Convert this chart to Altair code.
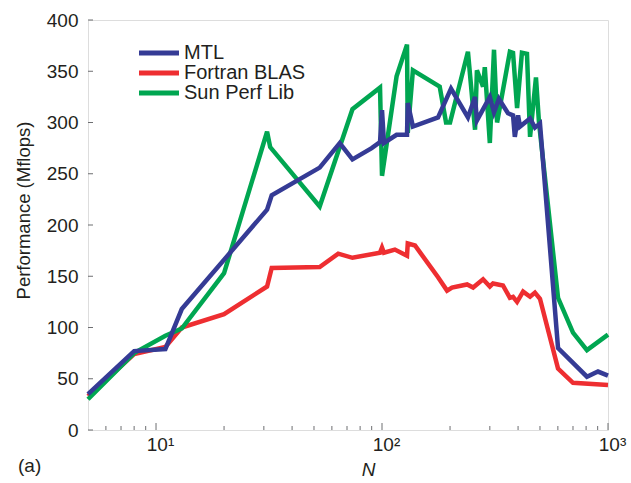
import altair as alt
import pandas as pd

# ---- data ----
series_names = ["MTL", "Fortran BLAS", "Sun Perf Lib"]
series_colors = ["#353b95", "#ee2e31", "#00a651"]

mtl_n = [5, 8, 11, 13, 31, 32.5, 53, 65, 74, 90, 98, 100, 102, 116, 129, 130, 137,
         177, 202, 240, 258, 263, 300, 313, 329, 361, 380, 387, 400, 408, 452, 475,
         500, 601, 807, 903, 1000]
mtl_perf = [35, 77, 79, 118, 215, 229, 256, 280, 264, 275, 281, 312, 280, 288, 288, 319, 296,
            305, 333, 305, 325, 302, 325, 310, 323, 309, 307, 286, 307, 296, 304, 295,
            299, 80, 52, 57, 53]

fortran_n = [5, 8, 11, 13, 20, 31, 32.5, 53, 64, 74, 98, 100, 102, 114, 129, 130, 140,
             177, 194, 204, 238, 253, 280, 300, 310, 343, 368, 380, 396, 421, 452, 475,
             500, 601, 700, 1000]
fortran_perf = [33, 74, 81, 100, 113, 140, 158, 159, 172, 168, 173, 178, 173, 176, 170, 182, 180,
                149, 136, 139, 142, 139, 147, 140, 143, 141, 129, 130, 125, 135, 130, 134,
                128, 60, 46, 44]

sun_n = [5, 8, 11, 13, 20, 31, 32, 53, 74, 98, 100, 116, 129, 130, 137, 180, 192, 200,
         240, 258, 263, 280, 285, 300, 313, 323, 368, 380, 396, 416, 438, 452, 480, 495,
         601, 700, 807, 1000]
sun_perf = [30, 75, 92, 99, 153, 291, 276, 218, 313, 334, 248, 345, 376, 290, 351, 335, 300, 300,
            369, 293, 351, 335, 354, 280, 371, 300, 369, 368, 314, 368, 367, 286, 344, 300,
            129, 95, 78, 93]

x_tick_values = [10, 100, 1000]
x_tick_labels = ["10¹", "10²", "10³"]
x_minor_ticks = [6, 7, 8, 9, 20, 30, 40, 50, 60, 70, 80, 90,
                 200, 300, 400, 500, 600, 700, 800, 900]
y_tick_values = [0, 50, 100, 150, 200, 250, 300, 350, 400]
annotation_text = ["(a)"]

# ---- tables ----
df_mtl = pd.DataFrame({"N": mtl_n, "perf": mtl_perf, "series": series_names[0]})
df_fortran = pd.DataFrame({"N": fortran_n, "perf": fortran_perf, "series": series_names[1]})
df_sun = pd.DataFrame({"N": sun_n, "perf": sun_perf, "series": series_names[2]})

W, H = 520, 410
FONT = "Liberation Sans"
TXT = "#231f20"
FRAME = "#6d6e71"

label_expr = " : ".join(
    f"datum.value == {v} ? '{l}'" for v, l in zip(x_tick_values, x_tick_labels)
) + " : ''"

x_scale = alt.Scale(type="log", domain=[5, 1000], nice=False)
y_scale = alt.Scale(domain=[0, 400], nice=False)

x_axis = alt.Axis(values=x_tick_values, labelExpr=label_expr, title="N",
                  titleFontStyle="italic", titleFontWeight="normal", titleFontSize=19,
                  titleX=280, titleY=45, titleBaseline="alphabetic", titleAlign="center",
                  labelFontSize=19, labelPadding=5, labelOffset=4, ticks=False, domain=False,
                  grid=False, labelColor=TXT, titleColor=TXT, labelFont=FONT, titleFont=FONT,
                  labelFlush=False, labelOverlap=False)
y_axis = alt.Axis(values=y_tick_values, title="Performance (Mflops)", titleFontSize=18.5,
                  titleFontWeight="normal", titleX=-65, titleY=190, titleAngle=270,
                  titleAlign="center", titleBaseline="middle",
                  labelFontSize=19, labelPadding=10, ticks=False, domain=False, grid=False,
                  labelColor=TXT, titleColor=TXT, labelFont=FONT, titleFont=FONT,
                  labelFlush=False, labelOverlap=False)

color = alt.Color("series:N",
                  scale=alt.Scale(domain=series_names, range=series_colors),
                  legend=alt.Legend(orient="none", legendX=46, legendY=23, title=None,
                                    symbolType="M-1,0H7", symbolSize=100,
                                    symbolStrokeWidth=5, labelFontSize=20, labelFont=FONT,
                                    labelColor=TXT, labelOffset=30, rowPadding=0,
                                    padding=0))

X = alt.X("N:Q", scale=x_scale, axis=x_axis)
Y = alt.Y("perf:Q", scale=y_scale, axis=y_axis)


def line_layer(df):
    return alt.Chart(df).mark_line(strokeWidth=4.5, strokeJoin="miter").encode(
        x=X, y=Y, color=color,
    )


major_df = pd.DataFrame({"N": x_tick_values})
minor_df = pd.DataFrame({"N": x_minor_ticks})
ytick_df = pd.DataFrame({"perf": y_tick_values})

major_ticks = alt.Chart(major_df).mark_rule(color=FRAME, strokeWidth=1).encode(
    x=X, y=alt.value(H), y2=alt.value(H - 7))
minor_ticks = alt.Chart(minor_df).mark_rule(color=FRAME, strokeWidth=1).encode(
    x=X, y=alt.value(H), y2=alt.value(H - 4))
y_ticks = alt.Chart(ytick_df).mark_rule(color=FRAME, strokeWidth=1).encode(
    y=Y, x=alt.value(0), x2=alt.value(5))

annot = alt.Chart(pd.DataFrame({"t": annotation_text})).mark_text(
    align="left", baseline="alphabetic", fontSize=19, font=FONT, color=TXT
).encode(text="t:N", x=alt.value(-70), y=alt.value(452))

chart = alt.layer(
    line_layer(df_fortran),
    line_layer(df_sun),
    line_layer(df_mtl),
    major_ticks, minor_ticks, y_ticks, annot,
).properties(
    width=W, height=H,
    padding={"left": 88, "top": 20, "right": 23, "bottom": 53},
    autosize=alt.AutoSizeParams(type="none"),
).configure_view(
    stroke=FRAME, strokeWidth=1
).configure(font=FONT, background="white")

chart.save("out.html", embed_options={"renderer": "svg", "actions": False})
